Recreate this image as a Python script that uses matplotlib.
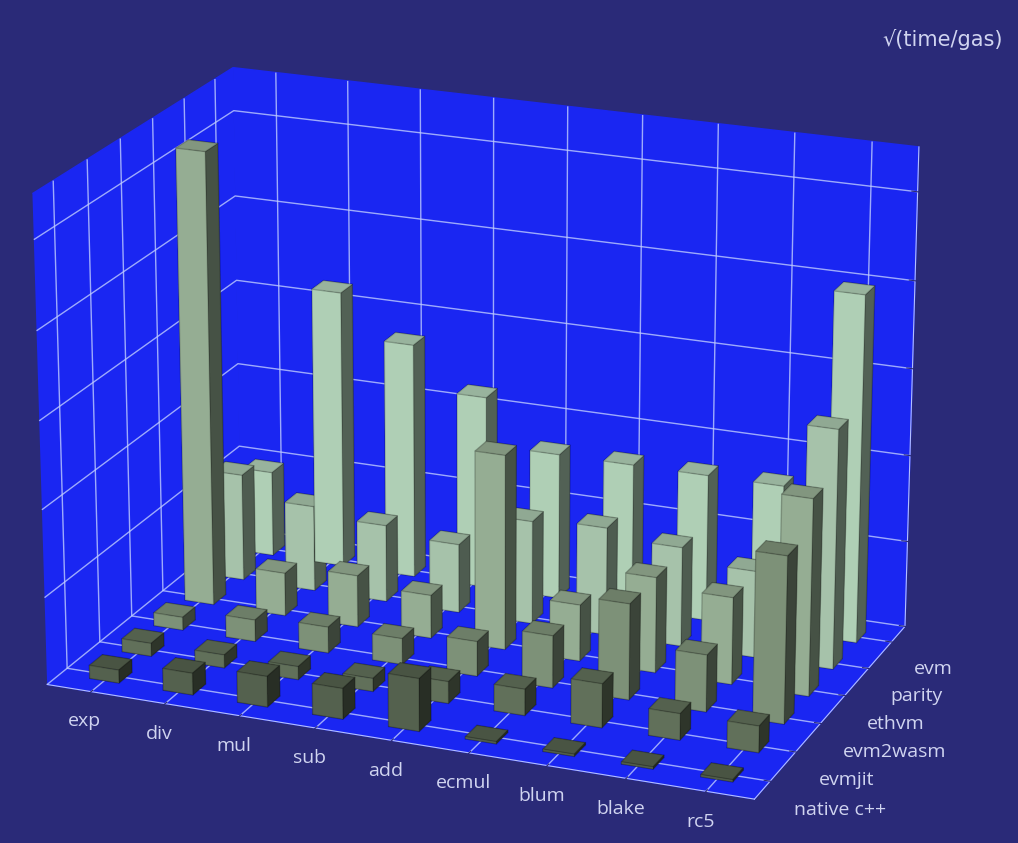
import matplotlib
matplotlib.use("Agg")
import matplotlib.pyplot as plt
import numpy as np

ops = ["exp", "div", "mul", "sub", "add", "ecmul", "blum", "blake", "rc5"]
vms = ["native c++", "evmjit", "evm2wasm", "ethvm", "parity", "evm"]
native = [0.3, 0.5, 0.7, 0.7, 1.2, 0.05, 0.05, 0.05, 0.05]
evmjit = [0.3, 0.3, 0.3, 0.3, 0.5, 0.6, 1.0, 0.6, 0.6]
evm2wasm = [0.3, 0.5, 0.6, 0.6, 0.8, 1.2, 2.2, 1.3, 3.8]
ethvm = [10.5, 1.0, 1.2, 1.0, 4.5, 1.3, 2.2, 2.0, 4.5]
parity = [2.5, 2.0, 1.8, 1.6, 2.4, 2.5, 2.3, 2.0, 5.5]
evm = [2.0, 6.5, 5.5, 4.5, 3.4, 3.4, 3.4, 3.4, 8.0]
data = [native, evmjit, evm2wasm, ethvm, parity, evm]
colors = ["#5f6e58", "#6e7f66", "#8ea488", "#a9c4a6", "#bcdcc0", "#c6eacd"]

fig = plt.figure(figsize=(10.18, 8.43), dpi=100)
fig.patch.set_facecolor("#2a2a78")
ax = fig.add_axes([-0.1, -0.1, 1.12, 1.18], projection="3d")
ax.set_facecolor("#2a2a78")
for pane in (ax.xaxis, ax.yaxis, ax.zaxis):
    pane.set_pane_color((0.1, 0.15, 0.95, 1.0))
    pane._axinfo["grid"]["color"] = (0.75, 0.8, 1.0, 0.8)
    pane._axinfo["grid"]["linewidth"] = 1.0
    pane.line.set_color((0.7, 0.75, 1.0, 1))

for j, row in enumerate(data):
    for i, v in enumerate(row):
        ax.bar3d(i - 0.2, j - 0.2, 0, 0.4, 0.4, v, color=colors[j], shade=True,
                 edgecolor=(0, 0, 0, 0.15))

ax.set_xticks(range(len(ops)))
ax.set_xticklabels(ops, fontsize=14, family="Open Sans")
ax.set_yticks(range(len(vms)))
ax.set_yticklabels(vms, fontsize=14, family="Open Sans", ha="left")
ax.set_zticks([0, 2, 4, 6, 8, 10])
ax.set_zticklabels([])
ax.set_xlim(-0.6, 8.6)
ax.set_ylim(-0.6, 5.6)
ax.set_zlim(0, 11)
ax.tick_params(axis="both", colors="#2a2a78", labelcolor="#d0d4f0", pad=4)
ax.tick_params(axis="z", colors="#2a2a78", labelcolor="#2a2a78")
ax.view_init(elev=20, azim=-68)
ax.set_box_aspect((1.6, 1.0, 1.1))
fig.text(0.985, 0.945, "√(time/gas)", color="#d0d4f0", fontsize=15, ha="right",
         family="DejaVu Sans")
fig.savefig("out.png", facecolor=fig.get_facecolor())
